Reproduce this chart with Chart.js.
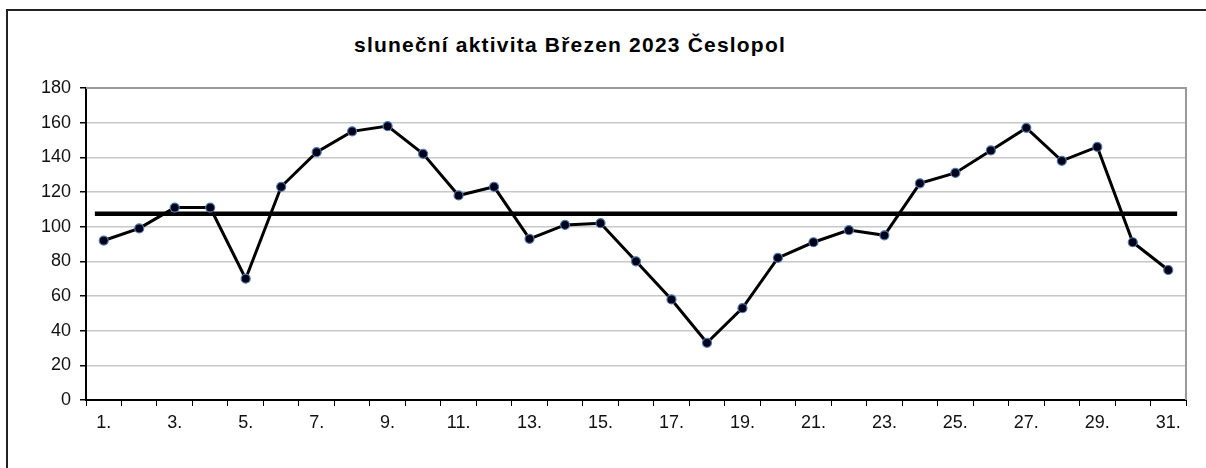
<!DOCTYPE html>
<html>
<head>
<meta charset="utf-8">
<script src="https://cdn.jsdelivr.net/npm/chart.js@4.4.0/dist/chart.umd.min.js"></script>
<style>
    html, body { margin: 0; padding: 0; background: #fff; overflow: hidden; }
    #frame {
        position: absolute; left: 6px; top: 9px; width: 1400px; height: 600px;
        border-left: 2px solid #222; border-top: 2px solid #222;
    }
    #title {
        position: absolute; left: 270px; width: 600px; top: 33px;
        text-align: center; font: bold 21px "Liberation Sans", Arial, sans-serif;
        letter-spacing: 1.2px; color: #000;
    }
    #chart { position: absolute; left: 0; top: 0; }
</style>
</head>
<body>
<div id="frame"></div>
<div id="title">sluneční aktivita Březen 2023 Česlopol</div>
<canvas id="chart" width="1206" height="468"></canvas>
<script>
const days = ['1.', '2.', '3.', '4.', '5.', '6.', '7.', '8.', '9.', '10.',
    '11.', '12.', '13.', '14.', '15.', '16.', '17.', '18.', '19.', '20.',
    '21.', '22.', '23.', '24.', '25.', '26.', '27.', '28.', '29.', '30.', '31.'];
const activity = [92, 99, 111, 111, 70, 123, 143, 155, 158, 142,
    118, 123, 93, 101, 102, 80, 58, 33, 53, 82,
    91, 98, 95, 125, 131, 144, 157, 138, 146, 91, 75];
const monthMean = 107.5;
const yTicks = [0, 20, 40, 60, 80, 100, 120, 140, 160, 180];

// gray frame round the plot area
const plotBorder = {
    id: 'plotBorder',
    afterDraw(chart) {
        const a = chart.chartArea;
        const ctx = chart.ctx;
        ctx.save();
        ctx.strokeStyle = '#9a9a9a';
        ctx.lineWidth = 2;
        ctx.beginPath();
        ctx.moveTo(a.left, a.top);
        ctx.lineTo(a.right, a.top);
        ctx.lineTo(a.right, a.bottom);
        ctx.stroke();
        ctx.restore();
    }
};

const font = { family: '"Liberation Sans", Arial, sans-serif', size: 18 };

new Chart(document.getElementById('chart'), {
    type: 'line',
    data: {
        labels: days,
        datasets: [{
            data: activity,
            borderColor: '#000',
            borderWidth: 3,
            pointRadius: 4.5,
            pointBackgroundColor: '#000018',
            pointBorderColor: '#4a78b0',
            pointBorderWidth: 1.2,
            tension: 0,
            order: 1
        }, {
            data: [{ x: 0.75, y: monthMean }, { x: 31.25, y: monthMean }],
            xAxisID: 'xm',
            borderColor: '#000',
            borderWidth: 4.5,
            pointRadius: 0,
            order: 2
        }]
    },
    options: {
        responsive: false,
        animation: false,
        layout: { padding: { left: 0, top: 88, right: 20, bottom: 26 } },
        plugins: { legend: { display: false }, tooltip: { enabled: false } },
        scales: {
            x: {
                offset: true,
                grid: { offset: true, drawOnChartArea: false, color: '#000', tickLength: 6 },
                border: { color: '#000', width: 2 },
                ticks: {
                    autoSkip: false, maxRotation: 0, padding: 6, color: '#111', font: font,
                    callback: (v, i) => (i % 2 === 0 ? days[i] : '')
                },
                afterFit: s => { s.height = 42; }
            },
            xm: { type: 'linear', display: false, min: 0.5, max: 31.5 },
            y: {
                min: 0, max: 180,
                afterBuildTicks: s => { s.ticks = yTicks.map(v => ({ value: v })); },
                grid: { color: '#c8c8c8', lineWidth: 1.5, tickColor: '#000', tickLength: 6 },
                border: { color: '#000', width: 2 },
                ticks: { padding: 9, color: '#111', font: font },
                afterFit: s => { s.width = 86; }
            }
        }
    },
    plugins: [plotBorder]
});
</script>
</body>
</html>
